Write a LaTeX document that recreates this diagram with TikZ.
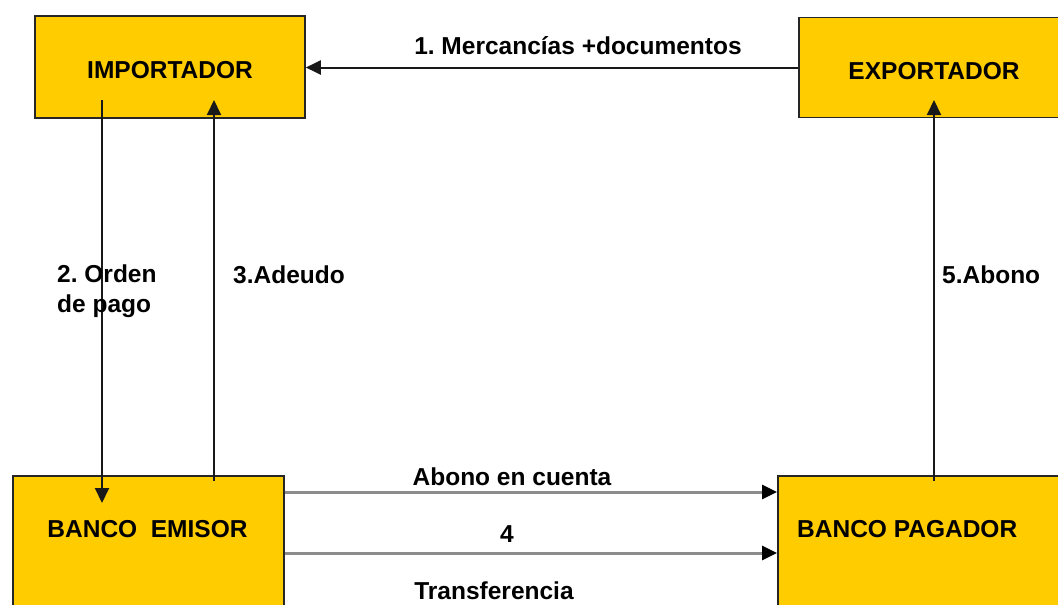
\documentclass[tikz,border=0pt]{standalone}
\usepackage{fontspec}
\setmainfont{Liberation Sans}
\usetikzlibrary{arrows.meta}
\definecolor{boxyellow}{HTML}{FFCC00}
\frenchspacing
\tikzset{
  box/.style={draw=black!85, line width=1.6pt, fill=boxyellow, inner sep=0pt},
  boxtext/.style={font=\bfseries\fontsize{24.5}{28}\selectfont, inner sep=0pt},
  lbl/.style={font=\bfseries\fontsize{24.5}{30}\selectfont, inner sep=0pt},
  arr/.style={line width=2pt, draw=black!90, -{Triangle[length=15pt,width=14pt]}},
  garr/.style={line width=3pt, draw=black!45, -{Triangle[length=15pt,width=14pt,fill=black,color=black]}},
}
\begin{document}
\begin{tikzpicture}[x=1pt,y=-1pt]
\useasboundingbox (0,0) rectangle (1058,605);
\clip (0,0) rectangle (1058,605);
% boxes
\node[box, minimum width=270pt, minimum height=102pt] (imp) at (170,67) {};
\node[boxtext] (impt) at (170,70) {IMPORTADOR};
\node[box, minimum width=270pt, minimum height=100pt] (exp) at (934,67.5) {};
\node[boxtext] (expt) at (934,71) {EXPORTADOR};
\node[box, minimum width=271pt, minimum height=160pt, anchor=north west] (be) at (12,475) {};
\node[boxtext] (bet) at (147.5,529) {BANCO\ \ EMISOR};
\node[box, minimum width=300pt, minimum height=160pt, anchor=north west] (bp) at (777,475) {};
\node[boxtext, anchor=west] (bpt) at (797,529) {BANCO PAGADOR};
% connector end points
\coordinate (d1s) at (102,100);
\coordinate (d1e) at (102,503);
\coordinate (u1s) at (214,481);
\coordinate (u1e) at (214,100);
\coordinate (u2s) at (934,481);
\coordinate (u2e) at (934,100);
% connectors
\draw[arr] (exp.west) -- (imp.east |- exp.west);
\draw[arr] (d1s) -- (d1e);
\draw[arr] (u1s) -- (u1e);
\draw[arr] (u2s) -- (u2e);
\draw[garr] ([yshift=-17pt]be.north east) -- ([yshift=-17pt]bp.north west);
\draw[garr] ([yshift=-78pt]be.north east) -- ([yshift=-78pt]bp.north west);
% labels
\node[lbl] (l1) at (578,46) {1. Mercancías +documentos};
\node[lbl, anchor=north west, align=left] (l2) at (57,265) {2. Orden\\de pago};
\node[lbl, anchor=west] (l3) at (233,275) {3.Adeudo};
\node[lbl, anchor=west] (l5) at (942,275) {5.Abono};
\node[lbl] (l4a) at (512,477) {Abono en cuenta};
\node[lbl] (l4) at (507,534) {4};
\node[lbl] (l4b) at (494,591) {Transferencia};
\end{tikzpicture}
\end{document}
